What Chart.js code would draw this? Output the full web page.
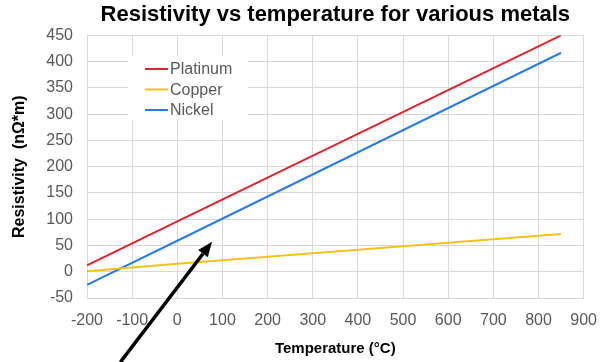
<!DOCTYPE html>
<html>
<head>
<meta charset="utf-8">
<script src="https://cdn.jsdelivr.net/npm/chart.js@4.4.0/dist/chart.umd.min.js"></script>
<style>
  html, body { margin: 0; padding: 0; background: #fff; }
  #wrap { width: 610px; height: 362px; }
</style>
</head>
<body>
<div id="wrap"><canvas id="chart" width="610" height="362"></canvas></div>
<script>
// Values
const temps = [-200, 0, 850];                 // °C
const platinum = [12, 96, 450];               // nΩ*m
const copper = [1, 15, 72];
const nickel = [-25, 59, 417];
const seriesNames = ['Platinum', 'Copper', 'Nickel'];
const seriesColors = ['#e0242e', '#f4c21f', '#2d7be6'];

// arrow annotation, in data units (tail, head)
const arrowFrom = [-126, -172];
const arrowTo = [77, 57];

const font = 'Liberation Sans, Arial, sans-serif';
const tickGrey = '#595959';
const gridGrey = '#d9d9d9';

function toPoints(values) {
    return temps.map((t, i) => ({ x: t, y: values[i] }));
}

const seriesValues = [platinum, copper, nickel];
const datasets = seriesNames.map((name, i) => ({
    label: name,
    data: toPoints(seriesValues[i]),
    borderColor: seriesColors[i],
    backgroundColor: seriesColors[i],
    borderWidth: 2,
    pointRadius: 0,
    showLine: true,
    fill: false
}));

// legend drawn inside the plot, with a white box
const insideLegend = {
    id: 'insideLegend',
    afterDatasetsDraw(chart) {
        const ctx = chart.ctx;
        ctx.save();
        ctx.fillStyle = '#fff';
        ctx.fillRect(128, 56, 120, 64);
        ctx.font = '16px ' + font;
        ctx.textBaseline = 'middle';
        chart.data.datasets.forEach((ds, i) => {
            const y = 69 + i * 20.5;
            ctx.strokeStyle = ds.borderColor;
            ctx.lineWidth = 2;
            ctx.beginPath();
            ctx.moveTo(145, y);
            ctx.lineTo(168, y);
            ctx.stroke();
            ctx.fillStyle = tickGrey;
            ctx.fillText(ds.label, 170, y + 1);
        });
        ctx.restore();
    }
};

// black arrow pointing at the lines
const arrow = {
    id: 'arrow',
    afterDraw(chart) {
        const xs = chart.scales.x, ys = chart.scales.y;
        const x1 = xs.getPixelForValue(arrowFrom[0]), y1 = ys.getPixelForValue(arrowFrom[1]);
        const x2 = xs.getPixelForValue(arrowTo[0]), y2 = ys.getPixelForValue(arrowTo[1]);
        const ang = Math.atan2(y2 - y1, x2 - x1);
        const len = 15, half = 6;
        const bx = x2 - len * Math.cos(ang), by = y2 - len * Math.sin(ang);
        const ctx = chart.ctx;
        ctx.save();
        ctx.strokeStyle = '#000';
        ctx.fillStyle = '#000';
        ctx.lineWidth = 3.5;
        ctx.beginPath();
        ctx.moveTo(x1, y1);
        ctx.lineTo(bx, by);
        ctx.stroke();
        ctx.beginPath();
        ctx.moveTo(x2, y2);
        ctx.lineTo(bx + half * Math.sin(ang), by - half * Math.cos(ang));
        ctx.lineTo(bx - half * Math.sin(ang), by + half * Math.cos(ang));
        ctx.closePath();
        ctx.fill();
        ctx.restore();
    }
};

new Chart(document.getElementById('chart').getContext('2d'), {
    type: 'scatter',
    data: { datasets: datasets },
    options: {
        responsive: false,
        animation: false,
        layout: { padding: { left: 0, right: 19, top: 0, bottom: 0 } },
        plugins: {
            legend: { display: false },
            tooltip: { enabled: false },
            title: {
                display: true,
                fullSize: false,
                text: 'Resistivity vs temperature for various metals',
                color: '#000',
                font: { family: font, size: 22, weight: 'bold' },
                padding: { top: 2, bottom: 7 }
            }
        },
        scales: {
            x: {
                type: 'linear',
                min: -200,
                max: 900,
                ticks: { stepSize: 100, color: tickGrey, font: { family: font, size: 16 }, padding: 13, maxRotation: 0 },
                grid: { color: gridGrey, drawTicks: false },
                border: { color: gridGrey },
                title: {
                    display: true,
                    text: 'Temperature (°C)',
                    color: '#000',
                    font: { family: font, size: 15, weight: 'bold' },
                    padding: { top: 5 }
                },
                afterFit(scale) { scale.height = 64; }
            },
            y: {
                min: -50,
                max: 450,
                ticks: { stepSize: 50, color: tickGrey, font: { family: font, size: 16 }, padding: 14 },
                grid: { color: gridGrey, drawTicks: false },
                border: { color: gridGrey },
                title: {
                    display: true,
                    text: 'Resistivity  (nΩ*m)',
                    color: '#000',
                    font: { family: font, size: 16, weight: 'bold' },
                    padding: { top: 10, bottom: 0 }
                },
                afterFit(scale) { scale.width = 87; }
            }
        }
    },
    plugins: [insideLegend, arrow]
});
</script>
</body>
</html>
